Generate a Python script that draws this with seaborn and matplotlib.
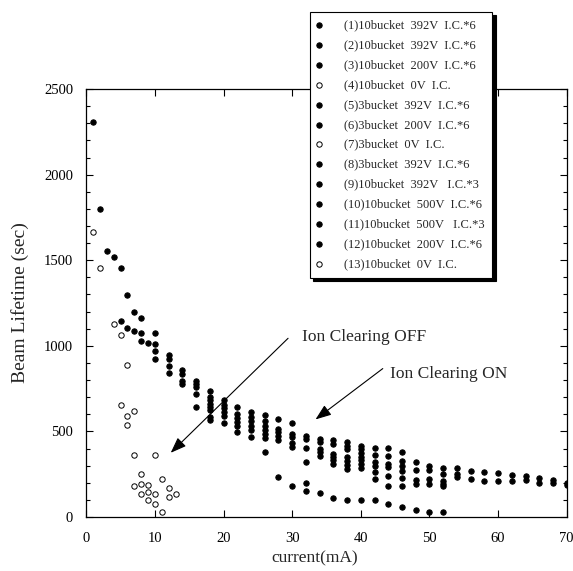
import matplotlib
matplotlib.use("Agg")
import matplotlib.pyplot as plt
from matplotlib.ticker import MultipleLocator
import seaborn as sns
import pandas as pd

# Dados: corrente (mA) e tempo de vida (s) por série
legendas = [
    "(1)10bucket  392V  I.C.*6",
    "(2)10bucket  392V  I.C.*6",
    "(3)10bucket  200V  I.C.*6",
    "(4)10bucket  0V  I.C.",
    "(5)3bucket  392V  I.C.*6",
    "(6)3bucket  200V  I.C.*6",
    "(7)3bucket  0V  I.C.",
    "(8)3bucket  392V  I.C.*6",
    "(9)10bucket  392V   I.C.*3",
    "(10)10bucket  500V  I.C.*6",
    "(11)10bucket  500V   I.C.*3",
    "(12)10bucket  200V  I.C.*6",
    "(13)10bucket  0V  I.C.",
]
abertos = [False, False, False, True, False, False, True, False, False, False, False, False, True]

s1_x = [1, 2, 3, 4, 5, 6, 7, 8, 10, 12, 14, 16, 18, 20, 22, 24, 26, 28, 30]
s1_y = [2310, 1797, 1555, 1520, 1455, 1295, 1198, 1163, 1073, 945, 860, 797, 735, 684, 642, 614, 595, 574, 550]
s2_x = [5, 6, 7, 8, 9, 10, 12, 14, 16, 18, 20, 22, 24, 26, 28, 30, 32, 34, 36, 38, 40, 42, 44, 46]
s2_y = [1143, 1105, 1089, 1073, 1019, 1010, 925, 836, 778, 700, 657, 599, 587, 560, 513, 486, 474, 455, 447, 436, 416, 404, 401, 381]
s3_x = [8, 10, 12, 14, 16, 18, 20, 22, 24, 26, 28, 30, 32, 34, 36, 38, 40]
s3_y = [1027, 968, 880, 795, 758, 681, 634, 580, 560, 533, 498, 467, 455, 436, 424, 416, 397]
s4_x = [1, 2, 4, 5, 6]
s4_y = [1665, 1455, 1125, 1065, 890]
s5_x = [10, 12, 14, 16, 18, 20, 22, 24, 26, 28, 30]
s5_y = [925, 840, 778, 720, 661, 615, 553, 533, 510, 474, 432]
s6_x = [16, 18, 20, 22, 24, 26, 28, 30]
s6_y = [642, 642, 591, 529, 506, 483, 447, 409]
s7_x = [5, 7, 6, 6, 7, 10]
s7_y = [655, 620, 590, 537, 365, 360]
s8_x = [18, 18, 20, 22, 24, 26, 28, 30, 32, 32, 34, 36, 38, 40, 42, 44, 46, 48, 50, 52]
s8_y = [623, 587, 548, 498, 467, 460, 231, 181, 197, 153, 140, 113, 101, 97, 97, 78, 58, 39, 27, 27]
s9_x = [18, 26, 32, 34, 36, 38, 40, 42, 44, 46, 48, 50, 52, 54, 56, 58, 60, 62, 64, 66, 68, 70]
s9_y = [568, 381, 404, 397, 369, 397, 373, 362, 358, 327, 319, 299, 288, 284, 268, 261, 257, 245, 237, 226, 214, 198]
s10_x = [32, 34, 36, 38, 40, 42, 44, 46, 48, 50, 52, 54]
s10_y = [323, 377, 350, 350, 350, 319, 311, 296, 276, 272, 253, 249]
s11_x = [34, 36, 38, 40, 42, 44, 46, 48, 50, 52, 54, 56, 58, 60, 62, 64, 66, 68, 70]
s11_y = [358, 331, 327, 331, 296, 292, 268, 214, 222, 210, 233, 222, 210, 210, 210, 214, 198, 198, 187]
s12_x = [36, 38, 40, 42, 44, 46, 48, 50, 52, 38, 40, 42, 44, 46, 52]
s12_y = [307, 303, 307, 261, 241, 226, 191, 194, 194, 280, 284, 222, 179, 179, 179]
s13_x = [8, 11, 7, 8, 9, 12, 9, 8, 10, 13, 12, 9, 10, 11]
s13_y = [250, 222, 183, 195, 187, 171, 148, 132, 136, 132, 117, 97, 74, 31]

series_x = [s1_x, s2_x, s3_x, s4_x, s5_x, s6_x, s7_x, s8_x, s9_x, s10_x, s11_x, s12_x, s13_x]
series_y = [s1_y, s2_y, s3_y, s4_y, s5_y, s6_y, s7_y, s8_y, s9_y, s10_y, s11_y, s12_y, s13_y]

linhas = []
for nome, xs, ys in zip(legendas, series_x, series_y):
    for x, y in zip(xs, ys):
        linhas.append({"Serie": nome, "current": x, "lifetime": y})
df = pd.DataFrame(linhas)

sns.set_style("ticks")
plt.rcParams["font.family"] = ["Liberation Serif", "DejaVu Serif"]

fig = plt.figure(figsize=(5.73, 5.71), dpi=100)
ax = fig.add_axes([0.1506, 0.0946, 0.8384, 0.7494])

for nome, aberto in zip(legendas, abertos):
    sub = df[df["Serie"] == nome]
    sns.scatterplot(data=sub, x="current", y="lifetime", ax=ax, s=15,
                    color="white" if aberto else "black", edgecolor="black",
                    linewidth=0.7, label=nome, legend=False, zorder=3)

ax.set_xlim(0, 70)
ax.set_ylim(0, 2500)
ax.xaxis.set_major_locator(MultipleLocator(10))
ax.yaxis.set_major_locator(MultipleLocator(500))
ax.yaxis.set_minor_locator(MultipleLocator(100))
ax.tick_params(axis="both", which="both", direction="in", top=True, right=True,
               width=0.8, colors="black", labelsize=10.5)
ax.tick_params(axis="x", which="major", length=5, pad=11)
ax.tick_params(axis="y", which="major", length=5, pad=9.5)
ax.tick_params(axis="y", which="minor", length=3)
for sp in ax.spines.values():
    sp.set_linewidth(0.9)
    sp.set_color("black")

ax.set_xlabel("current(mA)", fontsize=12.5)
ax.set_ylabel("Beam Lifetime (sec)", fontsize=14)
ax.xaxis.set_label_coords(0.476, -0.077)
ax.yaxis.set_label_coords(-0.12, 0.5)

# Setas de anotação
ax.annotate("", xy=(12.3, 375), xytext=(29.4, 1044),
            arrowprops=dict(arrowstyle="-|>,head_length=0.8,head_width=0.3",
                            color="black", lw=0.8, shrinkA=0, shrinkB=0),
            fontsize=12)
ax.text(31.4, 1052, "Ion Clearing OFF", fontsize=12.5, va="center", ha="left")
ax.annotate("", xy=(33.4, 570), xytext=(43.2, 867),
            arrowprops=dict(arrowstyle="-|>,head_length=0.8,head_width=0.3",
                            color="black", lw=0.8, shrinkA=0, shrinkB=0),
            fontsize=12)
ax.text(44.2, 838, "Ion Clearing ON", fontsize=12.5, va="center", ha="left")

handles, labels = ax.get_legend_handles_labels()
leg = fig.legend(handles, labels, loc="upper left",
                 bbox_to_anchor=(310 / 573, 1 - 12 / 571), borderaxespad=0,
                 fontsize=9, frameon=True, fancybox=False, framealpha=1,
                 edgecolor="black", borderpad=0.6, handlelength=0.3,
                 handletextpad=1.82, labelspacing=0.63, markerscale=1.0,
                 shadow={"ox": 2.5, "oy": -2.5, "color": "black", "alpha": 1})
leg.get_frame().set_linewidth(0.8)

plt.savefig("out.png", dpi=100)
plt.close()
